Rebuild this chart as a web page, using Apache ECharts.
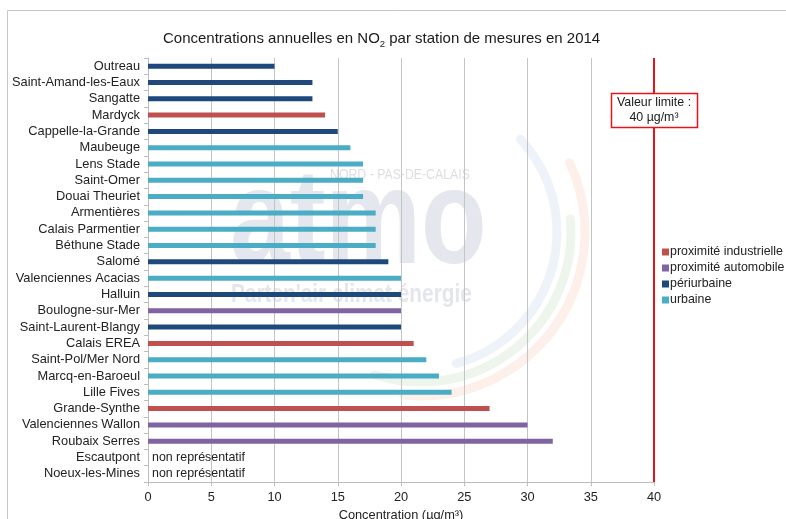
<!DOCTYPE html>
<html>
<head>
<meta charset="utf-8">
<script src="https://cdn.jsdelivr.net/npm/echarts@6/dist/echarts.min.js"></script>
<style>
  html, body { margin: 0; padding: 0; background: #fff; }
  #chart { width: 786px; height: 519px; }
</style>
</head>
<body>
<div id="chart"></div>
<script>
// Stations, top to bottom
const stations = [
  'Outreau', 'Saint-Amand-les-Eaux', 'Sangatte', 'Mardyck', 'Cappelle-la-Grande',
  'Maubeuge', 'Lens Stade', 'Saint-Omer', 'Douai Theuriet', 'Armentières',
  'Calais Parmentier', 'Béthune Stade', 'Salomé', 'Valenciennes Acacias', 'Halluin',
  'Boulogne-sur-Mer', 'Saint-Laurent-Blangy', 'Calais EREA', 'Saint-Pol/Mer Nord',
  'Marcq-en-Baroeul', 'Lille Fives', 'Grande-Synthe', 'Valenciennes Wallon',
  'Roubaix Serres', 'Escautpont', 'Noeux-les-Mines'
];

// Annual mean NO2 (µg/m³); null = non représentatif
const no2Values = [
  10, 13, 13, 14, 15,
  16, 17, 17, 17, 18,
  18, 18, 19, 20, 20,
  20, 20, 21, 22,
  23, 24, 27, 30,
  32, null, null
];

// Station type
const IND = 'proximité industrielle';
const AUTO = 'proximité automobile';
const PERI = 'périurbaine';
const URB = 'urbaine';
const stationTypes = [
  PERI, PERI, PERI, IND, PERI,
  URB, URB, URB, URB, URB,
  URB, URB, PERI, URB, PERI,
  AUTO, PERI, IND, URB,
  URB, URB, IND, AUTO,
  AUTO, null, null
];

const typeNames = [IND, AUTO, PERI, URB];
const typeColors = ['#c0504d', '#8064a2', '#1f497d', '#4bacc6'];

const xTicks = { min: 0, max: 40, step: 5 };
const limitValue = 40;
const nonRepText = 'non représentatif';

const FONT = "'Liberation Sans', Arial, sans-serif";

const chart = echarts.init(document.getElementById('chart'), null, { renderer: 'canvas' });

const series = typeNames.map((name, k) => ({
  name: name,
  type: 'bar',
  stack: 'station',
  barWidth: 5,
  itemStyle: { color: typeColors[k] },
  data: no2Values.map((v, i) => (stationTypes[i] === name ? v : '-')),
  z: 3
}));

// Text row for stations without a valid annual mean
series.push({
  name: 'nr',
  type: 'bar',
  stack: 'station',
  barWidth: 5,
  itemStyle: { color: 'transparent' },
  data: no2Values.map(v => (v == null ? 0 : '-')),
  label: {
    show: true,
    position: 'right',
    distance: 4,
    formatter: nonRepText,
    color: '#222',
    fontSize: 12.4,
    fontFamily: FONT
  },
  z: 3
});

// Limit value line
series[0].markLine = {
  silent: true,
  symbol: 'none',
  label: { show: false },
  lineStyle: { color: '#e3141b', width: 2, type: 'solid' },
  data: [{ xAxis: limitValue }]
};

const option = {
  animation: false,
  backgroundColor: '#fff',
  textStyle: { fontFamily: FONT },
  title: {
    text: 'Concentrations annuelles en NO{sub|2} par station de mesures en 2014',
    left: 158,
    top: 24,
    textStyle: {
      fontFamily: FONT,
      fontSize: 15,
      fontWeight: 'normal',
      color: '#1a1a1a',
      rich: {
        sub: { fontSize: 9.5, padding: [10, 0, 0, 0], verticalAlign: 'middle', color: '#1a1a1a', fontFamily: FONT }
      }
    }
  },
  legend: {
    data: typeNames,
    orient: 'vertical',
    left: 657,
    top: 241,
    icon: 'rect',
    itemWidth: 7,
    itemHeight: 7,
    itemGap: 4,
    textStyle: { fontSize: 12.4, color: '#222', fontFamily: FONT, padding: [0, 0, 0, -4] }
  },
  grid: { left: 148, right: 132, top: 58, bottom: 37, containLabel: false, outerBoundsMode: 'none' },
  xAxis: {
    type: 'value',
    min: xTicks.min,
    max: xTicks.max,
    interval: xTicks.step,
    name: 'Concentration (µg/m³)',
    nameLocation: 'middle',
    nameGap: 24,
    nameTextStyle: { fontSize: 12.8, color: '#222', fontFamily: FONT },
    axisLine: { show: true, lineStyle: { color: '#bdbdbd', width: 1 } },
    axisTick: { show: true, length: 4, lineStyle: { color: '#bdbdbd' } },
    axisLabel: { fontSize: 12.8, color: '#222', margin: 9, fontFamily: FONT },
    splitLine: { show: true, lineStyle: { color: '#c4c4c4', width: 1 } }
  },
  yAxis: {
    type: 'category',
    inverse: true,
    data: stations,
    axisLine: { show: true, lineStyle: { color: '#bdbdbd', width: 1 } },
    axisTick: { show: true, length: 4, interval: 0, lineStyle: { color: '#bdbdbd' } },
    axisLabel: { fontSize: 12.8, color: '#222', margin: 8, interval: 0, fontFamily: FONT },
    splitLine: { show: false }
  },
  series: series
};

chart.setOption(option);

// Limit value box, anchored on the 40 µg/m³ line
const limitX = chart.convertToPixel({ xAxisIndex: 0 }, limitValue);
const boxW = 86, boxH = 34, boxTop = 93;

// Watermark logo (atmo Nord - Pas-de-Calais)
const wm = { cx: 421, cy: 232 };

chart.setOption({
  graphic: [
    // chart frame
    {
      type: 'polyline',
      silent: true,
      z: 100,
      shape: { points: [[7.5, 519], [7.5, 10.5], [786, 10.5]] },
      style: { stroke: '#c6c6c6', lineWidth: 1, fill: null }
    },
    // watermark arcs
    {
      type: 'arc', silent: true, z: -10,
      shape: { cx: wm.cx, cy: wm.cy, r: 136, startAngle: -43 * Math.PI / 180, endAngle: 75 * Math.PI / 180, clockwise: true },
      style: { stroke: '#eef2f9', lineWidth: 9, lineCap: 'round', fill: null }
    },
    {
      type: 'arc', silent: true, z: -10,
      shape: { cx: wm.cx, cy: wm.cy, r: 150, startAngle: -5 * Math.PI / 180, endAngle: 108 * Math.PI / 180, clockwise: true },
      style: { stroke: '#eef5ec', lineWidth: 9, lineCap: 'round', fill: null }
    },
    {
      type: 'arc', silent: true, z: -10,
      shape: { cx: wm.cx, cy: wm.cy, r: 164, startAngle: -25 * Math.PI / 180, endAngle: 96 * Math.PI / 180, clockwise: true },
      style: { stroke: '#fdefe9', lineWidth: 9, lineCap: 'round', fill: null }
    },
    // watermark words
    {
      type: 'text', silent: true, z: -9,
      x: 230, y: 225, scaleX: 0.79,
      style: {
        text: 'atmo',
        font: "bold 136px 'Liberation Sans', Arial, sans-serif",
        fill: '#e4e7ed',
        verticalAlign: 'middle',
        align: 'left'
      }
    },
    {
      type: 'text', silent: true, z: -9,
      x: 330, y: 175, scaleX: 0.82,
      style: {
        text: 'NORD - PAS-DE-CALAIS',
        font: "15px 'Liberation Sans', Arial, sans-serif",
        fill: '#dcdee2',
        verticalAlign: 'middle',
        align: 'left'
      }
    },
    {
      type: 'text', silent: true, z: -9,
      x: 231, y: 295, scaleX: 0.8,
      style: {
        text: "Parten'air climat énergie",
        font: "bold 26px 'Liberation Sans', Arial, sans-serif",
        fill: '#e4e6eb',
        verticalAlign: 'middle',
        align: 'left'
      }
    },
    // limit value annotation
    {
      type: 'rect',
      silent: true,
      z: 50,
      shape: { x: Math.round(limitX - boxW / 2) + 0.5, y: boxTop + 0.5, width: boxW, height: boxH },
      style: { fill: '#fff', stroke: '#e3141b', lineWidth: 1.5 }
    },
    {
      type: 'text',
      silent: true,
      z: 51,
      x: limitX,
      y: boxTop + boxH / 2,
      style: {
        text: 'Valeur limite :\n40 µg/m³',
        font: "12.4px 'Liberation Sans', Arial, sans-serif",
        fill: '#1a1a1a',
        align: 'center',
        verticalAlign: 'middle',
        lineHeight: 15
      }
    }
  ]
});
</script>
</body>
</html>
